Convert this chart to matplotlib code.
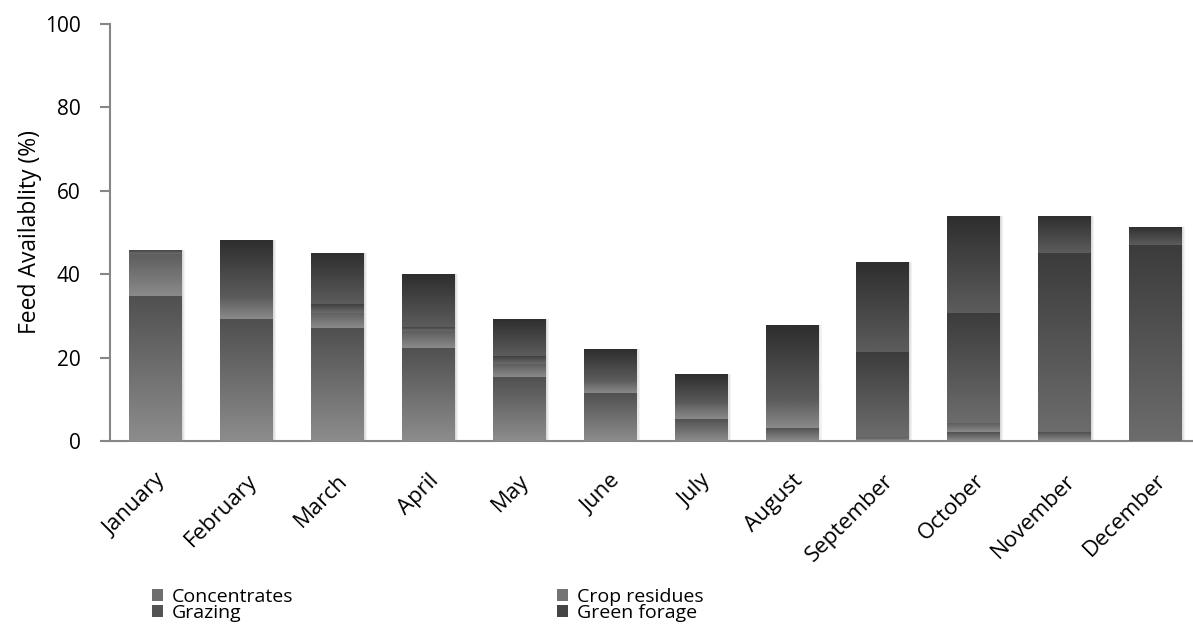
import numpy as np
import matplotlib.pyplot as plt
from matplotlib.colors import LinearSegmentedColormap

plt.rcParams['font.family'] = ['Open Sans', 'DejaVu Sans']

months = ['January', 'February', 'March', 'April', 'May', 'June', 'July',
          'August', 'September', 'October', 'November', 'December']

# feed availability (%) by source, stacked bottom to top
concentrates = [34.8, 29.2, 27.0, 22.4, 15.4, 11.6, 5.3, 3.2, 1.0, 2.1, 2.1, 0.0]
crop_residues = [10.0, 5.0, 3.7, 4.0, 3.0, 2.8, 3.6, 6.4, 0.0, 2.1, 0.0, 0.0]
grazing = [1.0, 0.0, 2.2, 1.0, 2.0, 0.0, 0.0, 0.0, 20.4, 26.4, 42.9, 46.9]
green_forage = [0.0, 13.9, 12.3, 12.6, 8.9, 7.6, 7.1, 18.2, 21.6, 23.4, 9.0, 4.5]

series = [
    ('Concentrates', concentrates, '#505050', '#8c8c8c'),
    ('Crop residues', crop_residues, '#5e5e5e', '#8a8a8a'),
    ('Grazing', grazing, '#3c3c3c', '#6c6c6c'),
    ('Green forage', green_forage, '#2e2e2e', '#5c5c5c'),
]

fig = plt.figure(figsize=(11.93, 6.34), dpi=100)
ax = fig.add_axes([110 / 1193, 193 / 634, 1091 / 1193, 417 / 634])

x = np.arange(len(months))
width = 0.58
bottom = np.zeros(len(months))
totals = np.sum([s[1] for s in series], axis=0)

# soft shadow on the right of each column
for k in range(3):
    ax.bar(x + 0.012 * (k + 1), totals, width, color='#000000', alpha=0.05,
           zorder=1, linewidth=0)

handles = {}
grad = np.linspace(0, 1, 64).reshape(-1, 1)
for name, vals, top_c, bot_c in series:
    mid = np.mean([int(top_c[1:3], 16), int(bot_c[1:3], 16)]) / 255
    bars = ax.bar(x, vals, width, bottom=bottom, label=name,
                  color=(mid, mid, mid), linewidth=0, zorder=2)
    cmap = LinearSegmentedColormap.from_list(name, [bot_c, top_c])
    for rect in bars:
        h = rect.get_height()
        if h <= 0:
            continue
        x0, y0, w = rect.get_x(), rect.get_y(), rect.get_width()
        im = ax.imshow(grad, cmap=cmap, extent=(x0, x0 + w, y0, y0 + h),
                       origin='lower', aspect='auto', zorder=3,
                       interpolation='bilinear')
        im.set_clip_path(rect)
    handles[name] = bars
    bottom += np.array(vals)

ax.set_xlim(-0.5, 11.5)
ax.set_ylim(0, 100)
ax.set_yticks(range(0, 101, 20))
ax.set_xticks(x)
ax.set_xticklabels(months, rotation=45, ha='right', va='top',
                   rotation_mode='anchor', fontsize=16)
ax.tick_params(axis='x', length=0, pad=21)
ax.tick_params(axis='y', length=7, width=1.5, color='#868686',
               labelsize=15, pad=14)
ax.set_ylabel('Feed Availablity (%)', fontsize=16.5)
ax.yaxis.set_label_coords(-0.062, 0.5)

for side in ['top', 'right']:
    ax.spines[side].set_visible(False)
for side in ['left', 'bottom']:
    ax.spines[side].set_color('#868686')
    ax.spines[side].set_linewidth(1.5)

# column-first fill, so this order reads row by row
order = ['Concentrates', 'Grazing', 'Crop residues', 'Green forage']
fig.legend([handles[n] for n in order], order, loc='upper left',
           bbox_to_anchor=(152 / 1193, 1 - 588 / 634),
           ncol=2, frameon=False, fontsize=14, handlelength=0.55,
           handleheight=0.55, handletextpad=0.45, labelspacing=-0.1,
           columnspacing=13.6, borderpad=0, borderaxespad=0)

fig.savefig('out.png', dpi=100)
